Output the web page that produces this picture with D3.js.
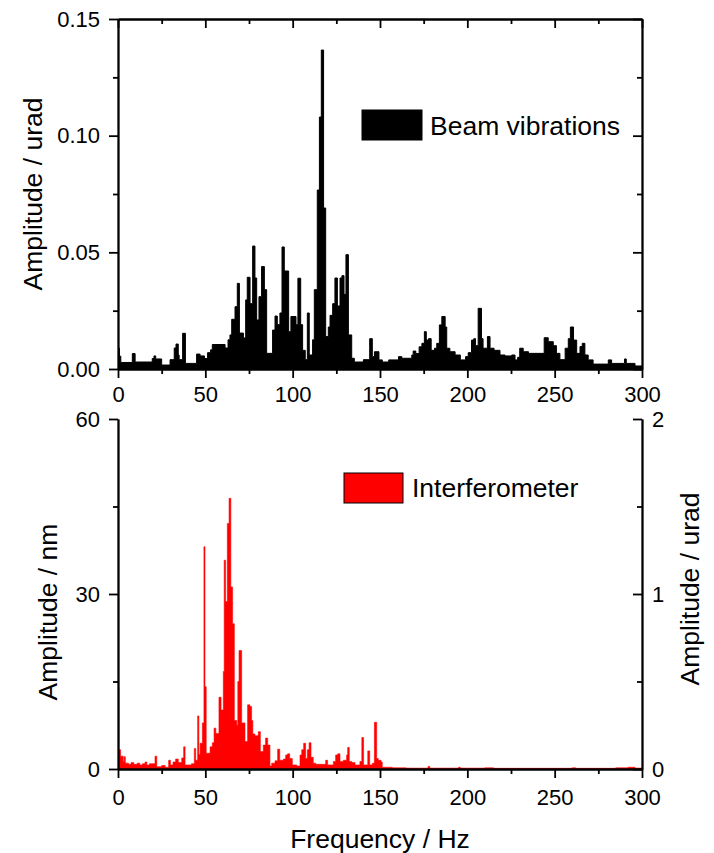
<!DOCTYPE html>
<meta charset="utf-8">
<style>
body { margin: 0; background: #fff; }
svg { display: block; font-family: Arial, "Liberation Sans", sans-serif; }
.axis path, .axis line { stroke: #000; stroke-width: 1.8; fill: none; }
.axis text { font-size: 22px; fill: #000; }
.title { font-size: 26.5px; fill: #000; }
</style>
<body>
<script src="https://cdn.jsdelivr.net/npm/d3@7"></script>
<script>
// spectra as [frequency Hz, amplitude] steps: amplitude holds until next frequency
var beamSteps = [
  [0,0.009],[0.8,0.0055],[1.6,0.0028],[8.2,0.0066],[9.8,0.003],[19.6,0.0045],[20.6,0.0056],
  [21.6,0.0043],[25,0.0017],[29.8,0.004],[32.2,0.009],[33.2,0.0107],[34.5,0.006],[35,0.004],
  [37,0.0153],[38.6,0.0024],[45,0.0064],[47,0.0056],[49.5,0.0045],[51.3,0.007],[53,0.0082],
  [54,0.0105],[61.3,0.009],[63,0.0125],[64.1,0.0146],[65.1,0.0213],[67,0.0267],[68.3,0.0367],
  [69.5,0.0154],[71.8,0.0133],[73.1,0.0296],[74,0.0393],[75.6,0.028],[77.1,0.0527],[78.4,0.039],
  [79.4,0.021],[80.7,0.031],[82.2,0.0439],[83.8,0.034],[85.1,0.0067],[88.5,0.0167],[89.9,0.0227],
  [91.2,0.019],[92.7,0.024],[93.9,0.0523],[95.2,0.042],[97.7,0.016],[99,0.0225],[101.9,0.019],
  [103,0.0389],[104.6,0.019],[105.7,0.008],[107.2,0.004],[108.4,0.024],[109.5,0.006],[111.4,0.0125],
  [112.4,0.034],[114.1,0.0767],[115.3,0.108],[116.4,0.1367],[117.7,0.069],[118.9,0.0139],
  [120.4,0.018],[121.4,0.023],[122.9,0.028],[124.2,0.039],[125.6,0.027],[127.1,0.039],[128.2,0.040],
  [129.4,0.032],[130.5,0.049],[131.9,0.0146],[133.8,0.0046],[135.3,0.003],[140.5,0.004],[144.1,0.013],
  [145.6,0.0053],[146.8,0.0074],[149.4,0.0039],[151.3,0.003],[155,0.0039],[160.6,0.0053],
  [162.5,0.0046],[168.2,0.006],[169,0.0077],[170.5,0.0066],[172.4,0.0095],[174,0.011],[175.4,0.016],
  [176.5,0.0124],[177.8,0.013],[179.3,0.008],[181.2,0.0089],[182.5,0.011],[184,0.0189],[185.4,0.0225],
  [187.3,0.018],[188.2,0.0089],[190,0.0074],[193,0.006],[196,0.0039],[199,0.0053],[200.5,0.007],
  [202.4,0.0124],[203.7,0.013],[204.7,0.010],[206.2,0.026],[208.1,0.013],[209,0.0089],[211.5,0.0139],
  [213,0.0089],[215.3,0.008],[218.7,0.006],[221.6,0.0056],[225.4,0.006],[227.3,0.0039],[228.8,0.005],
  [230,0.0089],[232,0.0074],[235,0.0067],[244,0.0134],[246.3,0.0117],[249.2,0.010],[251,0.0067],
  [253,0.004],[256,0.0089],[257.8,0.013],[259,0.018],[260.8,0.0124],[262.6,0.0067],[264.5,0.0096],
  [265.8,0.011],[267.3,0.006],[269.2,0.0039],[272,0.0021],[280.7,0.0039],[282.6,0.0024],[290,0.0043],
  [291,0.0024],[296,0.0013],[300,0.0013]
];

var interfSteps = [
  [0,14],[0.5,3.3],[1.5,2.2],[3,1.3],[3.5,2.1],[4.2,1.0],[6,0.8],[7.5,1.1],[9,0.8],[11,1.0],
  [12.5,0.7],[14,0.9],[15.5,1.2],[16.5,0.7],[18,0.9],[21.2,2.2],[22.2,0.4],[25,0.6],[27,0.3],
  [29,1.5],[30,0.7],[31.5,1.2],[33,1.7],[34.5,1.1],[36.5,1.9],[37.6,3.8],[38.4,0.7],[42,0.9],
  [43.7,3.5],[44.5,1.5],[45.6,9.1],[46.3,2.5],[47,4.4],[48.3,7.9],[49.2,38.1],[49.8,14.1],
  [50.5,2.7],[52.7,3.8],[54,4.5],[55,7.0],[56,6.1],[57.8,12.3],[59,10.1],[60.3,16.7],[60.8,35.8],
  [61.6,28.7],[62.6,42.1],[63.6,46.4],[64.6,31.2],[65.6,24.9],[66.6,8.3],[68,7.5],[68.6,15],
  [69.3,20.3],[70.8,7.9],[72.7,4.7],[74.2,11],[75.5,10.7],[76.5,8.3],[77.2,6],[78.4,5.7],[80.3,6.4],
  [81.5,3.0],[83.2,4.1],[84.5,5.3],[85.7,4.1],[87,0.5],[88,1.0],[89.9,1.4],[91.4,3.4],[92.6,1.5],
  [94.7,1.7],[96,2.4],[97.1,2.6],[98.3,1.8],[99.8,0.7],[102.3,0.5],[104.2,2.4],[105.2,3.3],
  [106.3,4.4],[107.4,1.8],[108.4,3.3],[109.4,4.5],[110.5,2.0],[111.8,1.0],[113.2,0.8],[118.9,1.5],
  [120,0.7],[123.3,1.3],[124.6,2.4],[125.8,2.6],[127.1,1.3],[129,1.5],[130.9,2.4],[131.5,3.7],
  [132.4,1.3],[133.8,1.1],[135.7,0.7],[138.5,1.3],[139.6,5.4],[140.6,0.7],[143,3.1],[144.1,0.7],
  [145.6,1.0],[146.8,8.0],[148.1,1.8],[149,1.5],[150.6,1.2],[151.3,0.3],[157,0.2],[165,0.15],
  [177.5,0.45],[178.5,0.15],[195,0.3],[196,0.15],[210,0.2],[215,0.12],[260,0.2],[262,0.12],
  [285,0.2],[292,0.3],[296,0.15],[300,0.15]
];

var freqTicks = [0, 50, 100, 150, 200, 250, 300];
var freqMinor = [25, 75, 125, 175, 225, 275];
var beamTicks = [0, 0.05, 0.10, 0.15];
var beamMinor = [0.025, 0.075, 0.125];
var nmTicks = [0, 30, 60];
var nmMinor = [15, 45];
var uradTicks = [0, 1, 2];
var uradMinor = [0.5, 1.5];

var W = 714, H = 853;
var left = 118, right = 642;
var top1 = 19, bot1 = 369, top2 = 419, bot2 = 769;

var svg = d3.select("body").append("svg")
    .attr("width", W)
    .attr("height", H);

var x = d3.scaleLinear().domain([0, 300]).range([left, right]);
var yBeam = d3.scaleLinear().domain([0, 0.15]).range([bot1, top1]);
var yNm = d3.scaleLinear().domain([0, 60]).range([bot2, top2]);
var yUrad = d3.scaleLinear().domain([0, 2]).range([bot2, top2]);

svg.append("clipPath").attr("id", "clip1")
  .append("rect").attr("x", left).attr("y", top1).attr("width", right - left).attr("height", bot1 - top1);
svg.append("clipPath").attr("id", "clip2")
  .append("rect").attr("x", left).attr("y", top2).attr("width", right - left).attr("height", bot2 - top2);

// spectra
svg.append("path")
    .datum(beamSteps)
    .attr("clip-path", "url(#clip1)")
    .attr("fill", "#000")
    .attr("stroke", "#000")
    .attr("stroke-width", 1)
    .attr("d", d3.area().curve(d3.curveStepAfter)
      .x(function(d) { return x(d[0]); })
      .y0(yBeam(0))
      .y1(function(d) { return yBeam(d[1]); }));

svg.append("path")
    .datum(interfSteps)
    .attr("clip-path", "url(#clip2)")
    .attr("fill", "#ff0000")
    .attr("stroke", "#ff0000")
    .attr("stroke-width", 0.6)
    .attr("d", d3.area().curve(d3.curveStepAfter)
      .x(function(d) { return x(d[0]); })
      .y0(yNm(0))
      .y1(function(d) { return yNm(d[1]); }));

function addAxis(axis, tx, ty) {
  return svg.append("g")
      .attr("class", "axis")
      .attr("transform", "translate(" + tx + "," + ty + ")")
      .call(axis);
}

// ---- top panel axes
addAxis(d3.axisBottom(x).tickValues(freqTicks).tickSizeInner(9).tickSizeOuter(0).tickPadding(8), 0, bot1);
addAxis(d3.axisBottom(x).tickValues(freqMinor).tickSizeInner(5).tickSizeOuter(0).tickFormat(""), 0, bot1);
addAxis(d3.axisTop(x).tickValues(freqTicks).tickSizeInner(-9).tickSizeOuter(0).tickFormat(""), 0, top1);
addAxis(d3.axisTop(x).tickValues(freqMinor).tickSizeInner(-5).tickSizeOuter(0).tickFormat(""), 0, top1);
addAxis(d3.axisLeft(yBeam).tickValues(beamTicks).tickSizeInner(9).tickSizeOuter(0).tickPadding(9)
    .tickFormat(d3.format(".2f")), left, 0);
addAxis(d3.axisLeft(yBeam).tickValues(beamMinor).tickSizeInner(5).tickSizeOuter(0).tickFormat(""), left, 0);
addAxis(d3.axisRight(yBeam).tickValues(beamTicks).tickSizeInner(-9).tickSizeOuter(0).tickFormat(""), right, 0);
addAxis(d3.axisRight(yBeam).tickValues(beamMinor).tickSizeInner(-5).tickSizeOuter(0).tickFormat(""), right, 0);

// ---- bottom panel axes
addAxis(d3.axisBottom(x).tickValues(freqTicks).tickSizeInner(9).tickSizeOuter(0).tickPadding(11), 0, bot2);
addAxis(d3.axisBottom(x).tickValues(freqMinor).tickSizeInner(5).tickSizeOuter(0).tickFormat(""), 0, bot2);
addAxis(d3.axisLeft(yNm).tickValues(nmTicks).tickSizeInner(9).tickSizeOuter(0).tickPadding(9), left, 0);
addAxis(d3.axisLeft(yNm).tickValues(nmMinor).tickSizeInner(5).tickSizeOuter(0).tickFormat(""), left, 0);
addAxis(d3.axisRight(yUrad).tickValues(uradTicks).tickSizeInner(-9).tickSizeOuter(0).tickPadding(10)
    .tickFormat(d3.format("d")), right, 0);
addAxis(d3.axisRight(yUrad).tickValues(uradMinor).tickSizeInner(-5).tickSizeOuter(0).tickFormat(""), right, 0);

svg.selectAll(".axis").attr("font-family", null).attr("font-size", null);

// ---- titles
svg.append("text").attr("class", "title")
    .attr("transform", "translate(42," + ((top1 + bot1) / 2) + ") rotate(-90)")
    .attr("text-anchor", "middle")
    .text("Amplitude / urad");
svg.append("text").attr("class", "title")
    .attr("transform", "translate(57,612) rotate(-90)")
    .attr("text-anchor", "middle")
    .text("Amplitude / nm");
svg.append("text").attr("class", "title")
    .attr("transform", "translate(699,589) rotate(-90)")
    .attr("text-anchor", "middle")
    .text("Amplitude / urad");
svg.append("text").attr("class", "title")
    .attr("x", (left + right) / 2)
    .attr("y", 848)
    .attr("text-anchor", "middle")
    .text("Frequency / Hz");

// ---- legends
svg.append("rect")
    .attr("x", 362).attr("y", 110).attr("width", 60).attr("height", 30)
    .attr("fill", "#000").attr("stroke", "#000");
svg.append("text").attr("class", "title")
    .attr("x", 430).attr("y", 135)
    .text("Beam vibrations");

svg.append("rect")
    .attr("x", 344).attr("y", 473).attr("width", 59).attr("height", 30)
    .attr("fill", "#ff0000").attr("stroke", "#000").attr("stroke-width", 1);
svg.append("text").attr("class", "title")
    .attr("x", 412).attr("y", 497)
    .text("Interferometer");
</script>
</body>
